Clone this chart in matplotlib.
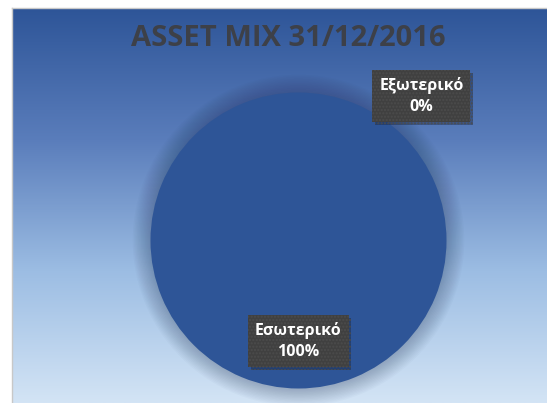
import numpy as np
import matplotlib
matplotlib.use("Agg")
import matplotlib.pyplot as plt
from matplotlib.colors import LinearSegmentedColormap
from matplotlib.patches import Circle
import matplotlib.patheffects as pe

plt.rcParams['font.family'] = ['Open Sans', 'DejaVu Sans']

# ---- data ----
title = "ASSET MIX 31/12/2016"
categories = ["Εσωτερικό", "Εξωτερικό"]
values = [100, 0]
pct_labels = ["100%", "0%"]

W, H = 547, 403
fig = plt.figure(figsize=(W / 100, H / 100), dpi=100, facecolor='white')

# background panel with vertical gradient
bg = fig.add_axes([12 / W, 0, (W - 12) / W, (H - 8) / H])
cmap = LinearSegmentedColormap.from_list(
    "bgblue", ["#2E5598", "#5A7DBB", "#9CBDE3", "#D3E4F5"])
grad = np.linspace(0, 1, 256).reshape(-1, 1)
bg.imshow(grad, aspect='auto', cmap=cmap, extent=[0, 1, 0, 1], origin='upper')
bg.set_xlim(0, 1)
bg.set_ylim(0, 1)
bg.axis('off')
# thin grey frame lines (top and left)
fig.add_artist(plt.Line2D([11.5 / W, 1], [(H - 7.5) / H] * 2, color='#c8c8c8', lw=1))
fig.add_artist(plt.Line2D([11.5 / W] * 2, [0, (H - 7.5) / H], color='#c8c8c8', lw=1))

# title
fig.text(288 / W, (H - 39) / H, title, ha='center', va='center',
         fontsize=21, fontweight='bold', color='#3d4048')

# pie axes (with margin so the soft shadow is not clipped)
cx, cy, r = 298.5, 240.5, 148
m = 1.2
ax = fig.add_axes([(cx - r * m) / W, (H - cy - r * m) / H, 2 * r * m / W, 2 * r * m / H])

# soft shadow halo
for rr in np.linspace(1.12, 1.0, 14):
    ax.add_patch(Circle((0, 0), rr, color='#1F3050', alpha=0.025, lw=0, zorder=0))

wedges, _ = ax.pie(values, colors=['#2E5597', '#ED7D31'], startangle=90,
                   counterclock=False, radius=1,
                   wedgeprops=dict(linewidth=0))
ax.set_xlim(-m, m)
ax.set_ylim(-m, m)
ax.set_aspect('auto')
ax.axis('off')

label_pos = [(0.0, -0.68), (0.83, 0.975)]
for cat, pl, (x, y) in zip(categories, pct_labels, label_pos):
    t = ax.text(x, y, f"{cat}\n{pl}", ha='center', va='center', fontsize=11.5,
                fontweight='bold', color='white', linespacing=1.45,
                bbox=dict(boxstyle='square,pad=0.42', fc='#404040', ec='#4c4c4c',
                          hatch='.....', lw=0),
                zorder=5)
    t.get_bbox_patch().set_path_effects(
        [pe.SimplePatchShadow(offset=(2, -2), shadow_rgbFace='#10182a', alpha=0.35),
         pe.Normal()])

fig.savefig("out.png", dpi=100, facecolor='white')
